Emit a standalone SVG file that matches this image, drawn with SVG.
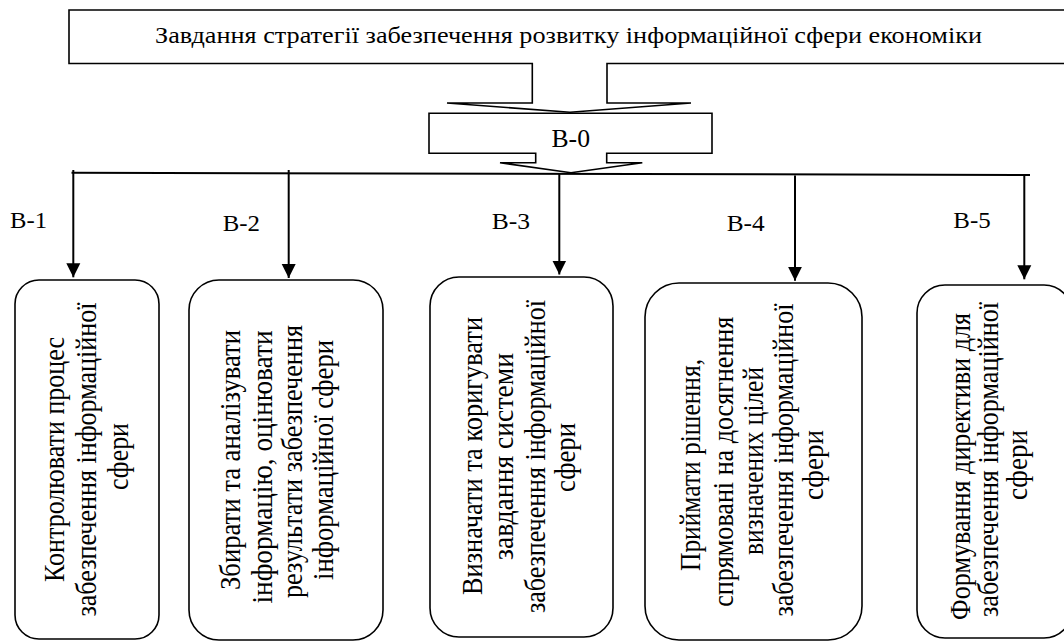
<svg xmlns="http://www.w3.org/2000/svg" width="1064" height="642" viewBox="0 0 1064 642">
<style>
.shape{fill:#fff;stroke:#000;stroke-width:1.6}
.conn{fill:none;stroke:#000;stroke-width:2}
text{font-family:'Liberation Serif','Times New Roman','DejaVu Serif',serif;fill:#000}
.bt{font-size:29px;text-anchor:middle}
.lbl{font-size:23px}
</style>
<defs>
<marker id="ah" markerUnits="userSpaceOnUse" markerWidth="16" markerHeight="16" viewBox="0 0 16 16" refX="14" refY="8" orient="auto">
<path d="M0,1 L14,8 L0,15 Z" fill="#000"/>
</marker>
</defs>
<rect width="1064" height="642" fill="#fff"/>

<g id="top">
<path class="shape" d="M69,10 H1075 V63.5 H607 V103 H691 L570,112.3 L447,103 H532.3 V63.5 H69 Z"/>
<text x="155" y="43" font-size="22.5" textLength="827" lengthAdjust="spacingAndGlyphs">Завдання стратегії забезпечення розвитку інформаційної сфери економіки</text>
</g>

<g id="b0">
<path class="shape" d="M429,113.3 H712 V153.3 H606.7 V162.7 H642.3 L571,172.7 L500,162.7 H535.7 V153.3 H429 Z"/>
<text x="551.5" y="147.3" font-size="26" textLength="38.5" lengthAdjust="spacingAndGlyphs">В-0</text>
</g>

<g id="connectors">
<line class="conn" x1="71.5" y1="172.7" x2="1030" y2="175"/>
<line class="conn" x1="73.3" y1="170" x2="73.3" y2="277.3" marker-end="url(#ah)"/>
<line class="conn" x1="288.7" y1="170" x2="288.7" y2="278" marker-end="url(#ah)"/>
<line class="conn" x1="559.3" y1="174" x2="559.3" y2="274.5" marker-end="url(#ah)"/>
<line class="conn" x1="795" y1="175.5" x2="795" y2="280.7" marker-end="url(#ah)"/>
<line class="conn" x1="1024.3" y1="175" x2="1024.3" y2="279.3" marker-end="url(#ah)"/>
<text class="lbl" x="10" y="228.3" textLength="37" lengthAdjust="spacingAndGlyphs">В-1</text>
<text class="lbl" x="222.7" y="230.7" textLength="37.3" lengthAdjust="spacingAndGlyphs">В-2</text>
<text class="lbl" x="491.7" y="229" textLength="38.3" lengthAdjust="spacingAndGlyphs">В-3</text>
<text class="lbl" x="726.7" y="230.7" textLength="38" lengthAdjust="spacingAndGlyphs">В-4</text>
<text class="lbl" x="953.3" y="228.3" textLength="37.4" lengthAdjust="spacingAndGlyphs">В-5</text>
</g>

<g id="n1">
<rect class="shape" x="15" y="280" width="144" height="359" rx="24" ry="24"/>
<text class="bt" transform="translate(64,459.5) rotate(-90)" textLength="245" lengthAdjust="spacingAndGlyphs">Контролювати процес</text>
<text class="bt" transform="translate(96,459.5) rotate(-90)" textLength="314" lengthAdjust="spacingAndGlyphs">забезпечення інформаційної</text>
<text class="bt" transform="translate(128,456.5) rotate(-90)" textLength="67" lengthAdjust="spacingAndGlyphs">сфери</text>
</g>

<g id="n2">
<rect class="shape" x="189" y="280" width="194" height="360" rx="30" ry="30"/>
<text class="bt" transform="translate(240,460) rotate(-90)" textLength="260" lengthAdjust="spacingAndGlyphs">Збирати та аналізувати</text>
<text class="bt" transform="translate(272,467) rotate(-90)" textLength="273" lengthAdjust="spacingAndGlyphs">інформацію, оцінювати</text>
<text class="bt" transform="translate(302,461.5) rotate(-90)" textLength="273" lengthAdjust="spacingAndGlyphs">результати забезпечення</text>
<text class="bt" transform="translate(333,460) rotate(-90)" textLength="240" lengthAdjust="spacingAndGlyphs">інформаційної сфери</text>
</g>

<g id="n3">
<rect class="shape" x="430" y="277" width="183" height="360" rx="29" ry="29"/>
<text class="bt" transform="translate(482,456) rotate(-90)" textLength="278" lengthAdjust="spacingAndGlyphs">Визначати та коригувати</text>
<text class="bt" transform="translate(513,456.5) rotate(-90)" textLength="207" lengthAdjust="spacingAndGlyphs">завдання системи</text>
<text class="bt" transform="translate(545,456.5) rotate(-90)" textLength="313" lengthAdjust="spacingAndGlyphs">забезпечення інформаційної</text>
<text class="bt" transform="translate(575,457.5) rotate(-90)" textLength="69" lengthAdjust="spacingAndGlyphs">сфери</text>
</g>

<g id="n4">
<rect class="shape" x="645" y="283" width="217" height="357" rx="34" ry="34"/>
<text class="bt" transform="translate(700,465) rotate(-90)" textLength="212" lengthAdjust="spacingAndGlyphs">Приймати рішення,</text>
<text class="bt" transform="translate(733,461.7) rotate(-90)" textLength="290" lengthAdjust="spacingAndGlyphs">спрямовані на досягнення</text>
<text class="bt" transform="translate(763,461) rotate(-90)" textLength="188" lengthAdjust="spacingAndGlyphs">визначених цілей</text>
<text class="bt" transform="translate(793,460) rotate(-90)" textLength="313" lengthAdjust="spacingAndGlyphs">забезпечення інформаційної</text>
<text class="bt" transform="translate(823,465) rotate(-90)" textLength="70" lengthAdjust="spacingAndGlyphs">сфери</text>
</g>

<g id="n5">
<rect class="shape" x="917" y="285" width="155" height="353" rx="28" ry="28"/>
<text class="bt" transform="translate(970,466.5) rotate(-90)" textLength="307" lengthAdjust="spacingAndGlyphs">Формування директиви для</text>
<text class="bt" transform="translate(998,459.5) rotate(-90)" textLength="315" lengthAdjust="spacingAndGlyphs">забезпечення інформаційної</text>
<text class="bt" transform="translate(1027,465) rotate(-90)" textLength="70" lengthAdjust="spacingAndGlyphs">сфери</text>
</g>
</svg>
